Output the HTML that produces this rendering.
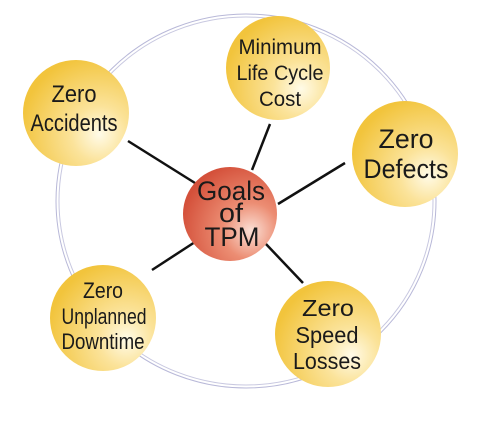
<!DOCTYPE html>
<html><head><style>html,body{margin:0;padding:0;background:#fff}svg{display:block}</style></head>
<body>
<svg width="492" height="426" viewBox="0 0 492 426" xmlns="http://www.w3.org/2000/svg">
<defs>
<radialGradient id="y" cx="0.72" cy="0.7" r="0.75">
<stop offset="0" stop-color="#fffbe8"/><stop offset="0.35" stop-color="#fbe39a"/><stop offset="1" stop-color="#f2c43c"/>
</radialGradient>
<radialGradient id="r" cx="0.72" cy="0.68" r="0.75">
<stop offset="0" stop-color="#fbe0d6"/><stop offset="0.4" stop-color="#ec8d73"/><stop offset="1" stop-color="#d4503a"/>
</radialGradient>
</defs>
<ellipse cx="246" cy="201" rx="190" ry="187" fill="none" stroke="#b8b8d8" stroke-width="1"/>
<ellipse cx="246" cy="201" rx="187" ry="184" fill="none" stroke="#c8c8e0" stroke-width="1"/>
<g stroke="#111" stroke-width="2.5">
<line x1="128" y1="141" x2="195" y2="183"/>
<line x1="270" y1="124" x2="252" y2="170"/>
<line x1="345" y1="163" x2="278" y2="204"/>
<line x1="152" y1="270" x2="195" y2="242"/>
<line x1="265" y1="243" x2="303" y2="283"/>
</g>
<circle cx="230" cy="214" r="47" fill="url(#r)"/>
<circle cx="76" cy="113" r="53" fill="url(#y)"/>
<circle cx="278" cy="68" r="52" fill="url(#y)"/>
<circle cx="405" cy="154" r="53" fill="url(#y)"/>
<circle cx="103" cy="318" r="53" fill="url(#y)"/>
<circle cx="328" cy="334" r="53" fill="url(#y)"/>
<g font-family="'Liberation Sans',sans-serif" fill="#1a1a1a" text-anchor="middle" lengthAdjust="spacingAndGlyphs">
<g font-size="27"><text x="231" y="200" textLength="68" lengthAdjust="spacingAndGlyphs">Goals</text><text x="231" y="222" textLength="24" lengthAdjust="spacingAndGlyphs">of</text><text x="232" y="246" textLength="55" lengthAdjust="spacingAndGlyphs">TPM</text></g>
<g font-size="24"><text x="74" y="102" textLength="45" lengthAdjust="spacingAndGlyphs">Zero</text><text x="74" y="131" textLength="87" lengthAdjust="spacingAndGlyphs">Accidents</text></g>
<g font-size="21"><text x="280" y="54" textLength="83" lengthAdjust="spacingAndGlyphs">Minimum</text><text x="280" y="80" textLength="87" lengthAdjust="spacingAndGlyphs">Life Cycle</text><text x="280" y="106" textLength="42" lengthAdjust="spacingAndGlyphs">Cost</text></g>
<g font-size="27"><text x="406" y="148" textLength="55" lengthAdjust="spacingAndGlyphs">Zero</text><text x="406" y="178" textLength="85" lengthAdjust="spacingAndGlyphs">Defects</text></g>
<g font-size="22"><text x="103" y="298" textLength="40" lengthAdjust="spacingAndGlyphs">Zero</text><text x="104" y="324" textLength="85" lengthAdjust="spacingAndGlyphs">Unplanned</text><text x="103" y="349" textLength="83" lengthAdjust="spacingAndGlyphs">Downtime</text></g>
<g font-size="23"><text x="328" y="316" textLength="52" lengthAdjust="spacingAndGlyphs">Zero</text><text x="327" y="343" textLength="63" lengthAdjust="spacingAndGlyphs">Speed</text><text x="327" y="369" textLength="68" lengthAdjust="spacingAndGlyphs">Losses</text></g>
</g>
</svg>
</body></html>
